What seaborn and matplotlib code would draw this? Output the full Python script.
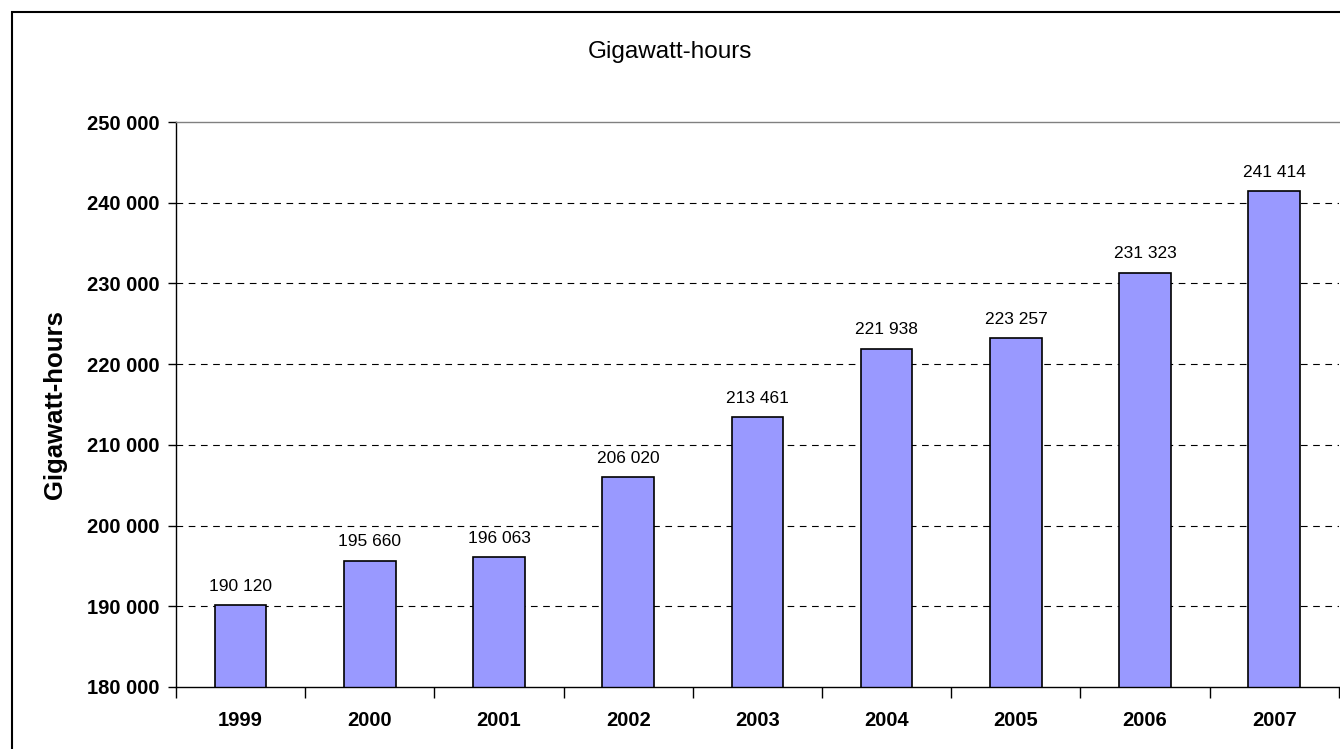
import pandas as pd
import matplotlib.pyplot as plt
import matplotlib.patches as patches
from matplotlib.ticker import FixedLocator, FuncFormatter
import seaborn as sns

# Data
years = ['1999', '2000', '2001', '2002', '2003', '2004', '2005', '2006', '2007']
gwh = [190120, 195660, 196063, 206020, 213461, 221938, 223257, 231323, 241414]

df = pd.DataFrame({'year': years, 'gwh': gwh})

sns.set_style('white')
plt.rcParams['font.family'] = ['Liberation Sans', 'DejaVu Sans']
plt.rcParams['text.color'] = 'black'
plt.rcParams['axes.labelcolor'] = 'black'
plt.rcParams['xtick.color'] = 'black'
plt.rcParams['ytick.color'] = 'black'


def space_fmt(v, pos=None):
    return f"{int(v):,}".replace(',', ' ')


fig = plt.figure(figsize=(13.4, 7.49), dpi=100)
ax = fig.add_axes([0.1313, 0.0828, 0.8679, 0.7543])

sns.barplot(data=df, x='year', y='gwh', color='#9999FF', edgecolor='black',
            linewidth=1.2, width=0.4, saturation=1, ax=ax)

ax.set_ylim(180000, 250000)
ax.set_xlim(-0.5, len(years) - 0.5)
ax.set_yticks(range(180000, 250001, 10000))
ax.yaxis.set_major_formatter(FuncFormatter(space_fmt))

# dashed gridlines (not at top)
for y in range(190000, 250000, 10000):
    ax.axhline(y, color='black', linestyle=(0, (6, 5)), linewidth=0.8, zorder=0)

# value labels
for i, v in enumerate(gwh):
    ax.text(i, v + 1400, space_fmt(v), ha='center', va='bottom', fontsize=12.5)

# tick styling
ax.tick_params(axis='y', left=True, length=6, width=1, labelsize=14.5, pad=6)
ax.tick_params(axis='x', bottom=False, labelsize=14.5, pad=14)
ax.xaxis.set_minor_locator(FixedLocator([i - 0.5 for i in range(len(years) + 1)]))
ax.tick_params(axis='x', which='minor', bottom=True, length=8, width=1, direction='out')
for lbl in ax.get_xticklabels() + ax.get_yticklabels():
    lbl.set_fontweight('bold')

ax.set_xlabel('')
ax.set_ylabel('Gigawatt-hours', fontsize=18.5, fontweight='bold', labelpad=14)

ax.spines['left'].set_color('black')
ax.spines['bottom'].set_color('black')
ax.spines['top'].set_color('#808080')
ax.spines['right'].set_visible(False)
for s in ['left', 'bottom', 'top']:
    ax.spines[s].set_visible(True)
    ax.spines[s].set_linewidth(1)

fig.text(0.5, 1 - 52 / 749, 'Gigawatt-hours', ha='center', va='center', fontsize=17.5)

# outer chart border
fig.patches.append(patches.Rectangle((12 / 1340, -0.1), 1.2, 0.1 + 1 - 12 / 749,
                                     transform=fig.transFigure, fill=False,
                                     edgecolor='black', linewidth=1.5))

fig.savefig('out.png', dpi=100)
